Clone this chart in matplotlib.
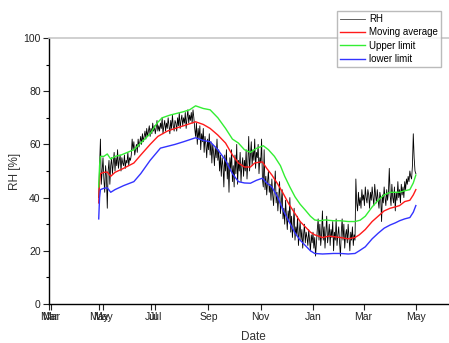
import numpy as np
import matplotlib
matplotlib.use("Agg")
from matplotlib import pyplot as plt

plt.rcParams['font.family'] = ['Liberation Sans', 'DejaVu Sans']

# x values are day numbers counted from 1 March of the first year

# daily relative humidity, from day 56 to day 426
rh_start = 56
rh = [40, 52, 62, 45, 50, 55, 47, 42, 52, 48,
      36, 50, 54, 45, 52, 55, 49, 53, 57, 50,
      55, 52, 58, 51, 54, 56, 50, 55, 53, 52,
      56, 51, 54, 53, 57, 52, 55, 54, 56, 62,
      58, 61, 56, 58, 60, 57, 62, 59, 61, 63,
      60, 64, 61, 63, 65, 62, 66, 63, 65, 67,
      63, 66, 64, 68, 65, 67, 64, 66, 69, 65,
      67, 65, 68, 66, 70, 64, 67, 69, 65, 68,
      66, 70, 67, 64, 69, 66, 71, 67, 65, 69,
      68, 65, 70, 67, 72, 66, 69, 71, 67, 70,
      68, 72, 66, 70, 73, 68, 71, 69, 72, 68,
      73, 70, 66, 63, 68, 60, 66, 62, 67, 58,
      64, 61, 66, 57, 63, 60, 55, 62, 58, 64,
      56, 61, 53, 60, 57, 52, 59, 55, 62, 54,
      58, 50, 56, 48, 55, 52, 44, 56, 50, 58,
      47, 53, 42, 55, 50, 58, 46, 52, 44, 56,
      49, 60, 45, 54, 50, 57, 46, 52, 55, 48,
      54, 50, 58, 47, 53, 63, 50, 56, 61, 52,
      58, 54, 62, 51, 57, 55, 60, 49, 55, 53,
      62, 47, 44, 58, 43, 48, 41, 46, 50, 42,
      45, 39, 47, 41, 37, 44, 50, 38, 42, 35,
      40, 46, 34, 38, 43, 32, 36, 30, 39, 33,
      28, 35, 31, 40, 27, 33, 25, 30, 36, 24,
      29, 26, 33, 22, 27, 31, 24, 28, 21, 26,
      30, 23, 27, 25, 22, 28, 24, 20, 26, 23,
      27, 21, 25, 18, 23, 28, 32, 24, 30, 22,
      26, 35, 24, 29, 21, 27, 33, 23, 26, 30,
      22, 28, 25, 31, 20, 27, 24, 32, 22, 26,
      29, 23, 18, 27, 32, 24, 30, 21, 26, 28,
      23, 30, 25, 20, 27, 24, 29, 22, 26, 24,
      47, 38, 35, 42, 37, 40, 36, 43, 39, 41,
      37, 44, 40, 38, 43, 41, 36, 42, 39, 44,
      40, 37, 45, 41, 38, 43, 39, 36, 42, 40,
      31, 41, 38, 44, 40, 37, 43, 39, 42, 51,
      41, 37, 45, 40, 38, 44, 35, 42, 39, 46,
      40, 43, 38, 45, 41, 44, 40, 46, 43, 47,
      45, 48, 46, 50, 48, 47, 52, 64, 55, 50, 49]
rh_days = np.arange(rh_start, rh_start + len(rh))

# moving average
avg_days = [56, 57, 58, 62, 66, 70, 75, 85, 97, 105, 116, 125, 136, 145, 155,
            169, 178, 186, 195, 204, 212, 219, 226, 233, 238, 243, 247, 252,
            258, 265, 271, 278, 285, 291, 297, 303, 308, 317, 325, 338, 347,
            355, 360, 367, 375, 382, 389, 396, 402, 407, 413, 419, 423, 426]
avg_vals = [38, 46, 49, 49.5, 49.6, 48, 49.5, 51, 53, 56, 60, 63, 65, 66, 67,
            68.5, 67.5, 66, 63.5, 60.5, 56, 53, 51.5, 51.5, 53, 53.3, 53.4, 51,
            48.5, 45, 41.7, 37.5, 34, 31, 29, 27, 26, 25, 25.5, 25, 24.5,
            25, 26, 28, 31, 33, 35, 36, 36.5, 37, 38.5, 39, 41, 43]

# upper limit
up_days = [56, 57, 58, 62, 66, 70, 75, 82, 97, 105, 116, 124, 130, 139, 155,
           162, 169, 178, 186, 195, 204, 212, 219, 226, 233, 240, 248, 254,
           261, 268, 273, 279, 285, 291, 297, 303, 308, 314, 320, 330, 338,
           347, 355, 361, 367, 375, 382, 389, 396, 407, 412, 419, 423, 426]
up_vals = [44, 52, 55.5, 55.5, 56.4, 54.5, 55.5, 56, 58, 60.5, 64, 68, 70, 71, 72.3,
           73, 74.5, 73.5, 73, 70, 66, 62, 60.5, 58, 57, 58.5, 59.5, 58,
           55.5, 52, 48, 44, 40.3, 37.5, 35.3, 33, 31.6, 31.3, 31.6, 31.3, 31.3,
           31, 31, 31.5, 33, 36.5, 39, 41, 42, 42, 42.5, 43, 45.5, 48.5]

# lower limit
low_days = [56, 57, 58, 62, 66, 70, 75, 85, 97, 105, 116, 128, 145, 155, 169,
            178, 186, 195, 204, 212, 219, 226, 233, 240, 247, 252, 258, 265,
            271, 278, 285, 291, 297, 303, 308, 317, 330, 338, 347, 355, 360,
            367, 375, 382, 389, 396, 402, 407, 413, 419, 423, 426]
low_vals = [32, 40, 43, 43.5, 43.7, 42, 43, 44.5, 46, 49, 54, 58.6, 60, 61, 62.5,
            61.5, 61, 58, 54, 49, 46, 45.5, 45.4, 46.5, 47.3, 45.5, 44, 40,
            35.3, 31, 26.7, 24, 22, 20, 19, 18.8, 19, 19, 18.8, 19, 20,
            21.5, 24.5, 26.6, 28.5, 29.7, 30.5, 31.3, 32, 32.5, 34.5, 37]

# month ticks (two overlapping sets, as in the original)
tick_days = [0, 61, 122, 184, 245, 306, 365, 426]
tick_labels = ['Mar', 'May', 'Jul', 'Sep', 'Nov', 'Jan', 'Mar', 'May']
extra_days = [-2, 56, 117]
extra_labels = ['Mar', 'May', 'Jul']

fig = plt.figure(figsize=(4.49, 3.43), dpi=100)
ax = fig.add_axes([49/449, 39/343, 408/449, 266/343])

ax.plot(rh_days, rh, color='black', lw=0.6, label='RH')
ax.plot(avg_days, avg_vals, color='#ff1a1a', lw=1.0, label='Moving average')
ax.plot(up_days, up_vals, color='#33ee33', lw=1.0, label='Upper limit')
ax.plot(low_days, low_vals, color='#3333ff', lw=1.0, label='lower limit')

ax.set_xlim(-1.5, 474)
ax.set_ylim(0, 100)

ax.set_xticks(tick_days + extra_days)
ax.set_xticklabels(tick_labels + extra_labels)
ax.set_yticks([0, 20, 40, 60, 80, 100])
ax.set_yticks(np.arange(10, 100, 20), minor=True)
ax.tick_params(direction='out', length=4, width=0.8, labelsize=7.5,
               colors='#222222', pad=2)
ax.tick_params(which='minor', direction='out', length=2, width=0.8)

ax.spines['right'].set_visible(False)
ax.spines['top'].set_color('#c8c8c8')
ax.spines['top'].set_linewidth(1.2)
ax.spines['left'].set_linewidth(1.0)
ax.spines['bottom'].set_linewidth(1.0)

ax.set_xlabel('Date', fontsize=8.5, color='#333333', labelpad=6)
ax.set_ylabel('RH [%]', fontsize=8.5, color='#333333', labelpad=2)

leg = fig.legend(loc='upper left', bbox_to_anchor=(337/449, 1 - 11/343),
                 fontsize=7, frameon=True, fancybox=False, handlelength=2.6,
                 handletextpad=0.4, borderpad=0.3, labelspacing=0.35,
                 borderaxespad=0)
leg.get_frame().set_edgecolor('#aaaaaa')
leg.get_frame().set_linewidth(1.0)
leg.get_lines()[0].set_color('#444444')

fig.savefig('out.png', dpi=100)
